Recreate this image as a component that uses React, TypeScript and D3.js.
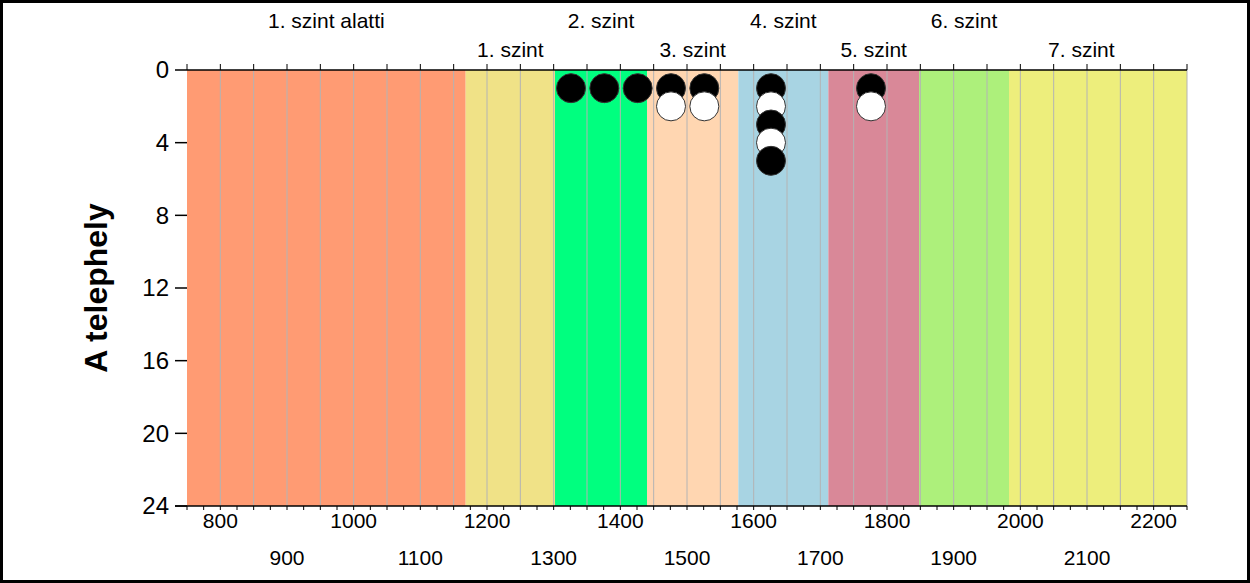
import React from "react";
import * as d3 from "d3";

// ---- data ----
const bandNames = [
  "1. szint alatti",
  "1. szint",
  "2. szint",
  "3. szint",
  "4. szint",
  "5. szint",
  "6. szint",
  "7. szint",
];
const bandStarts = [750, 1168, 1302, 1440, 1577, 1712, 1848, 1983];
const bandEnds = [1168, 1302, 1440, 1577, 1712, 1848, 1983, 2200];
const bandColors = [
  "#FF9B73",
  "#F0E287",
  "#00FF7F",
  "#FFD6B1",
  "#A8D4E3",
  "#D98898",
  "#ADF07B",
  "#EDEE7C",
];

const pointX = [1326, 1376, 1426, 1476, 1476, 1526, 1526, 1626, 1626, 1626, 1626, 1626, 1776, 1776];
const pointY = [1, 1, 1, 1, 2, 1, 2, 1, 2, 3, 4, 5, 1, 2];
const pointFill = ["black", "black", "black", "black", "white", "black", "white", "black", "white", "black", "white", "black", "black", "white"];

const xDomain = [750, 2250];
const yDomain = [0, 24];
const yTicks = [0, 4, 8, 12, 16, 20, 24];
const xLabelTicks = [800, 900, 1000, 1100, 1200, 1300, 1400, 1500, 1600, 1700, 1800, 1900, 2000, 2100, 2200];
const yTitle = "A telephely";

// ---- layout ----
const W = 1250;
const H = 583;
const L = 187;
const R = 1187;
const T = 70;
const B = 506;
const FONT = "'Liberation Sans', Arial, sans-serif";

export default function App() {
  const x = d3.scaleLinear().domain(xDomain).range([L, R]);
  const y = d3.scaleLinear().domain(yDomain).range([T, B]);
  const grid = d3.range(xDomain[0] + 50, xDomain[1] + 1, 50);
  const topTicks = d3.range(xDomain[0], xDomain[1] + 1, 50);
  const bottomTicks = d3.range(xDomain[0], xDomain[1] + 1, 25);

  const points = pointX.map((v, i) => ({ x: v, y: pointY[i], fill: pointFill[i] }));

  return (
    <svg
      width={W}
      height={H}
      style={{ position: "absolute", left: 0, top: 0, background: "white" }}
      fontFamily={FONT}
    >
      <rect x={0} y={0} width={W} height={H} fill="white" />
      {/* bands */}
      {bandStarts.map((s, i) => {
        const e = i < bandStarts.length - 1 ? bandStarts[i + 1] : xDomain[1];
        return (
          <rect
            key={"b" + i}
            x={x(s)}
            y={T}
            width={x(e) - x(s)}
            height={B - T}
            fill={bandColors[i]}
          />
        );
      })}
      {/* grid */}
      {grid.map((g) => (
        <line key={"g" + g} x1={x(g)} x2={x(g)} y1={T} y2={B} stroke="#B4B4B4" strokeWidth={1} />
      ))}
      {/* band labels */}
      {bandNames.map((n, i) => (
        <text
          key={"bl" + i}
          x={x((bandStarts[i] + bandEnds[i]) / 2)}
          y={i % 2 === 0 ? 28 : 57}
          textAnchor="middle"
          fontSize={21}
          fill="black"
        >
          {n}
        </text>
      ))}
      {/* top axis */}
      <line x1={L} x2={R} y1={T} y2={T} stroke="black" strokeWidth={1.5} />
      {topTicks.map((t) => (
        <line key={"tt" + t} x1={x(t)} x2={x(t)} y1={T} y2={T - 6} stroke="black" strokeWidth={1} />
      ))}
      {/* bottom axis */}
      <line x1={L - 12} x2={R} y1={B} y2={B} stroke="black" strokeWidth={1.5} />
      {bottomTicks.map((t) => (
        <line key={"bt" + t} x1={x(t)} x2={x(t)} y1={B} y2={B + 4} stroke="black" strokeWidth={1} />
      ))}
      {xLabelTicks.map((t) => (
        <text
          key={"xl" + t}
          x={x(t)}
          y={(t / 100) % 2 === 0 ? 528 : 565}
          textAnchor="middle"
          fontSize={21}
          fill="black"
        >
          {t}
        </text>
      ))}
      {/* y axis */}
      {yTicks.map((t) => (
        <g key={"yt" + t}>
          <line x1={L - 12} x2={L} y1={y(t)} y2={y(t)} stroke="black" strokeWidth={1.5} />
          <text x={L - 18} y={y(t)} dy="0.35em" textAnchor="end" fontSize={24} fill="black">
            {t}
          </text>
        </g>
      ))}
      <text
        transform={`translate(${107},${(T + B) / 2}) rotate(-90)`}
        textAnchor="middle"
        fontSize={32}
        fontWeight="bold"
        fill="black"
      >
        {yTitle}
      </text>
      {/* points */}
      {points.map((p, i) => (
        <circle
          key={"p" + i}
          cx={x(p.x)}
          cy={y(p.y)}
          r={14.5}
          fill={p.fill}
          stroke="#333"
          strokeWidth={1}
        />
      ))}
      {/* outer border */}
      <rect x={1.5} y={1.5} width={W - 3} height={H - 3} fill="none" stroke="black" strokeWidth={3} />
    </svg>
  );
}
